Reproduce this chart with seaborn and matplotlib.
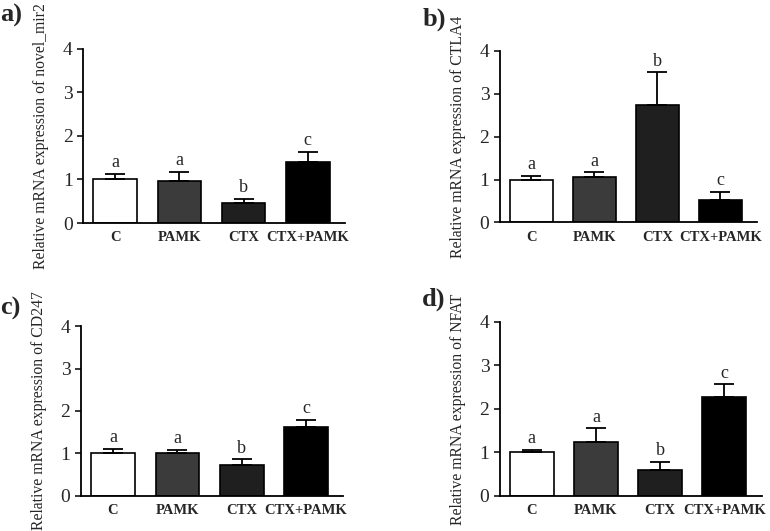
import matplotlib
matplotlib.use("Agg")
import matplotlib.pyplot as plt
import seaborn as sns
import pandas as pd
import numpy as np

groups = ["C", "PAMK", "CTX", "CTX+PAMK"]
bar_colors = ["#ffffff", "#3b3b3b", "#1f1f1f", "#000000"]

mir2_mean = [1.00, 0.97, 0.45, 1.40]
mir2_err = [0.12, 0.20, 0.10, 0.23]
mir2_sig = ["a", "a", "b", "c"]

ctla4_mean = [1.00, 1.07, 2.74, 0.52]
ctla4_err = [0.09, 0.10, 0.76, 0.19]
ctla4_sig = ["a", "a", "b", "c"]

cd247_mean = [1.00, 1.00, 0.74, 1.63]
cd247_err = [0.11, 0.09, 0.12, 0.16]
cd247_sig = ["a", "a", "b", "c"]

nfat_mean = [1.00, 1.25, 0.60, 2.28]
nfat_err = [0.06, 0.30, 0.18, 0.28]
nfat_sig = ["a", "a", "b", "c"]

panels = [
    ("a)", "novel_mir2", mir2_mean, mir2_err, mir2_sig),
    ("b)", "CTLA4", ctla4_mean, ctla4_err, ctla4_sig),
    ("c)", "CD247", cd247_mean, cd247_err, cd247_sig),
    ("d)", "NFAT", nfat_mean, nfat_err, nfat_sig),
]

sns.set_style("ticks")
plt.rcParams["font.family"] = ["Liberation Serif", "DejaVu Serif"]

fig = plt.figure(figsize=(7.7, 5.31), dpi=100)

# axes boxes in figure fraction (left, bottom, width, height)
boxes = [
    (0.108, 0.580, 0.340, 0.328),
    (0.649, 0.581, 0.334, 0.323),
    (0.105, 0.066, 0.341, 0.320),
    (0.649, 0.066, 0.340, 0.328),
]
label_pos = [(0.0, 0.992), (0.549, 0.985), (0.0, 0.440), (0.548, 0.458)]

for (tag, gene, mean, err, sig), box, lp in zip(panels, boxes, label_pos):
    ax = fig.add_axes(box)
    df = pd.DataFrame({"group": groups, "value": mean})
    sns.barplot(data=df, x="group", y="value", hue="group", order=groups,
                palette=bar_colors, edgecolor="black", linewidth=1.2,
                width=0.68, errorbar=None, legend=False, ax=ax)
    xs = np.arange(len(groups))
    ax.errorbar(xs, mean, yerr=[np.zeros(len(err)), err], fmt="none",
                ecolor="black", elinewidth=1.3, capsize=7.5, capthick=1.3)
    for x, m, e, s in zip(xs, mean, err, sig):
        ax.annotate(s, (x, m + e), xytext=(0, 2), textcoords="offset points",
                    ha="center", va="bottom", fontsize=13)
    ax.set_ylim(0, 4)
    ax.set_xlim(-0.5, 3.58)
    ax.set_yticks([0, 1, 2, 3, 4])
    ax.set_xlabel("")
    ax.set_ylabel("Relative mRNA expression of " + gene, fontsize=11.3, labelpad=10)
    ax.tick_params(axis="y", labelsize=14, length=4, width=1.3, direction="out")
    ax.tick_params(axis="x", labelsize=10.5, length=0, pad=6)
    for lab in ax.get_xticklabels():
        lab.set_fontweight("bold")
    sns.despine(ax=ax)
    for sp in ["left", "bottom"]:
        ax.spines[sp].set_linewidth(1.3)
        ax.spines[sp].set_color("black")
    fig.text(lp[0], lp[1], tag, fontsize=19, fontweight="bold", va="top", ha="left")

fig.savefig("out.png", dpi=100)
